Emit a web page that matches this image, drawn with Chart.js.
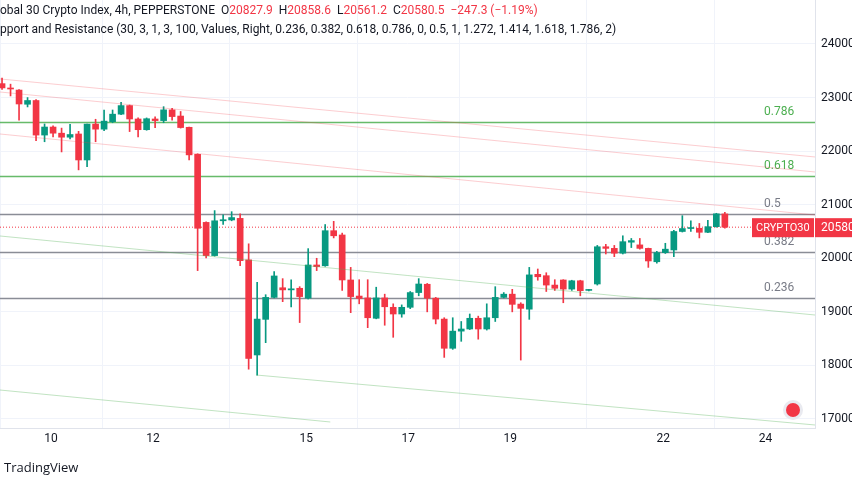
<!DOCTYPE html>
<html>
<head>
<meta charset="utf-8">
<script src="https://cdn.jsdelivr.net/npm/chart.js@4"></script>
<style>
body { margin: 0; background: #fff; }
#wrap { position: relative; width: 852px; height: 485px; }
#tv { position: absolute; left: 4px; top: 458px; font: 13px "Open Sans", sans-serif; color: #131722; }
</style>
</head>
<body>
<div id="wrap"><canvas id="c" width="852" height="485"></canvas><div id="tv">TradingView</div></div>
<script>
// 4h candles, index 0..85
var opens  = [23260,23170,23140,22875,22945,22300,22450,22335,22260,22320,21835,22505,22410,22550,22690,22850,22600,22400,22600,22570,22770,22655,22445,21940,20670,20050,20700,20715,20745,19970,
              18195,18860,19270,19450,19410,19440,19255,19875,19860,20515,20435,19595,19295,19260,18880,19260,19085,18960,19085,19360,19515,19255,18865,18320,18640,18680,18880,18680,18890,19270,
              19330,19145,19050,19700,19675,19500,19595,19425,19580,19400,19520,20215,20185,20095,20300,20250,20185,19935,20105,20155,20500,20555,20560,20485,20590,20828];
var highs  = [23365,23250,23150,23000,22960,22507,22470,22430,22500,22370,22505,22595,22768,22768,22910,22860,22620,22620,22640,22830,22800,22740,22450,21950,20680,20890,20810,20870,20830,20270,
              19550,19320,19750,19620,19600,19470,20180,20000,20630,20690,20470,19830,19600,19600,19460,19330,19150,19130,19380,19620,19530,19270,18890,18890,18820,18960,18920,19150,19470,19360,
              19420,19170,19830,19800,19730,19600,19600,19590,19590,19420,20240,20260,20240,20420,20370,20370,20190,20130,20280,20520,20795,20700,20650,20710,20840,20858];
var lows   = [23150,23030,22580,22825,22195,22175,22265,21985,22230,21650,21710,22175,22380,22530,22680,22365,22265,22390,22440,22530,22580,22430,21835,19770,20005,20040,20630,20700,19860,17930,
              17820,18425,19260,19190,19090,18800,19240,19770,19850,20380,19400,18985,19150,18705,18870,18750,18525,18900,19060,19300,19000,18775,18150,18300,18450,18670,18490,18660,18820,19260,
              19000,18100,18860,19590,19380,19400,19170,19400,19300,19390,19500,20080,20030,20080,20200,20170,19830,19910,20090,20030,20490,20500,20380,20480,20580,20561];
var closes = [23180,23160,22880,22945,22300,22450,22335,22260,22310,21835,22505,22410,22560,22690,22850,22600,22400,22605,22570,22770,22645,22440,21930,20560,20050,20700,20720,20760,19955,18130,
              18865,19270,19670,19410,19430,19285,19875,19845,20515,20420,19595,19285,19250,18890,19260,19095,18960,19085,19360,19520,19255,18865,18320,18640,18680,18880,18680,18890,19270,19330,
              19140,19065,19690,19655,19500,19440,19425,19580,19395,19415,20215,20185,20095,20310,20330,20185,19950,20105,20170,20500,20555,20560,20485,20590,20830,20580];

var dayLabels = ['10','12','15','17','19','22','24'];
var dayValues = [10,12,15,17,19,22,24];
var yTicks = [17000,18000,19000,20000,21000,22000,23000,24000];

// fib levels
var fibNames  = ['0.786','0.618','0.5','0.382','0.236'];
var fibValues = [22544,21535,20827,20117,19258];
var fibGreen  = [true,true,false,false,false];

// channel lines [x1,y1,x2,y2] in candle index / price
var redLines = [[-0.24,23347,95.6,21891],[-0.24,23104,95.6,21611],[-0.24,22320,95.6,20808]];
var greenLines = [[-0.24,20416,95.6,18941],[29.9,17821,95.6,16888],[-0.24,17541,38.6,16944]];

var lastPrice = 20580.5;

var UP = '#089981', DOWN = '#f23645';
function dayToIndex(d) { return (d - 9.039) * 6; }

var idx = opens.map(function (o, i) { return i; });
var cols = opens.map(function (o, i) { return closes[i] >= o ? UP : DOWN; });

var datasets = [];
redLines.forEach(function (l) {
	datasets.push({ type: 'line', data: [{x: l[0], y: l[1]}, {x: l[2], y: l[3]}], borderColor: 'rgba(242,54,69,0.25)', borderWidth: 1, pointRadius: 0 });
});
greenLines.forEach(function (l) {
	datasets.push({ type: 'line', data: [{x: l[0], y: l[1]}, {x: l[2], y: l[3]}], borderColor: 'rgba(76,175,80,0.35)', borderWidth: 1, pointRadius: 0 });
});
datasets.push({ type: 'bar', data: idx.map(function (i) { return {x: i, y: [lows[i], highs[i]]}; }), backgroundColor: cols, barThickness: 1, grouped: false });
datasets.push({ type: 'bar', data: idx.map(function (i) { return {x: i, y: [opens[i], closes[i]]}; }), backgroundColor: cols, barThickness: 6, minBarLength: 1, grouped: false });

var overlay = {
	id: 'overlay',
	beforeDatasetsDraw: function (chart) {
		var ctx = chart.ctx, a = chart.chartArea, ys = chart.scales.y;
		ctx.save();
		fibValues.forEach(function (v, i) {
			var y = Math.round(ys.getPixelForValue(v)) + 0.5;
			ctx.strokeStyle = fibGreen[i] ? 'rgba(76,175,80,0.85)' : '#8a8d96';
			ctx.lineWidth = 1.3;
			ctx.beginPath(); ctx.moveTo(a.left, y); ctx.lineTo(a.right, y); ctx.stroke();
			ctx.fillStyle = fibGreen[i] ? '#4caf50' : '#787b86';
			ctx.font = '12px Roboto';
			ctx.textAlign = 'left';
			ctx.fillText(fibNames[i], 764, y - 8);
		});
		var py = ys.getPixelForValue(lastPrice);
		ctx.strokeStyle = DOWN; ctx.lineWidth = 1; ctx.setLineDash([1, 2]);
		ctx.beginPath(); ctx.moveTo(a.left, py); ctx.lineTo(a.right, py); ctx.stroke();
		ctx.restore();
	},
	afterDraw: function (chart) {
		var ctx = chart.ctx, ys = chart.scales.y;
		ctx.save();
		var py = ys.getPixelForValue(lastPrice);
		ctx.fillStyle = DOWN;
		ctx.fillRect(752, py - 9, 62, 19);
		ctx.fillRect(815, py - 9, 37, 19);
		ctx.fillStyle = '#fff'; ctx.font = '11px Roboto'; ctx.textBaseline = 'middle';
		ctx.fillText('CRYPTO30', 756, py + 1);
		ctx.font = '12px Roboto';
		ctx.fillText('20580', 821, py + 1);
		// header
		ctx.textBaseline = 'middle'; ctx.font = '12px Roboto';
		var x = 0;
		var parts = [['obal 30 Crypto Index, 4h, PEPPERSTONE  ', '#131722'], ['O', '#131722'], ['20827.9  ', DOWN], ['H', '#131722'], ['20858.6  ', DOWN],
			['L', '#131722'], ['20561.2  ', DOWN], ['C', '#131722'], ['20580.5  \u2212247.3 (\u22121.19%)', DOWN]];
		parts.forEach(function (p) { ctx.fillStyle = p[1]; ctx.fillText(p[0], x, 11); x += ctx.measureText(p[0]).width; });
		ctx.fillStyle = '#131722';
		ctx.fillText('pport and Resistance (30, 3, 1, 3, 100, Values, Right, 0.236, 0.382, 0.618, 0.786, 0, 0.5, 1, 1.272, 1.414, 1.618, 1.786, 2)', 0, 30);
		// flag icon
		ctx.beginPath(); ctx.arc(793, 410, 10, 0, Math.PI * 2); ctx.fillStyle = '#e9eaf0'; ctx.fill();
		ctx.beginPath(); ctx.arc(793, 410, 7, 0, Math.PI * 2); ctx.fillStyle = DOWN; ctx.fill();
		ctx.restore();
	}
};

new Chart(document.getElementById('c').getContext('2d'), {
	type: 'bar',
	data: { datasets: datasets },
	plugins: [overlay],
	options: {
		responsive: false, animation: false,
		layout: { padding: 0 },
		plugins: { legend: { display: false }, tooltip: { enabled: false } },
		scales: {
			x: {
				type: 'linear', min: -0.24, max: 95.6, offset: false,
				afterFit: function (s) { s.height = 57; s.paddingLeft = 0; s.paddingRight = 0; },
				afterBuildTicks: function (s) { s.ticks = dayValues.map(function (d) { return {value: dayToIndex(d)}; }); },
				ticks: { autoSkip: false, maxRotation: 0, padding: 4, color: '#131722', font: {family: 'Roboto', size: 12},
					callback: function (v, i) { return dayLabels[i]; } },
				grid: { color: '#f0f3fa', drawTicks: false },
				border: { display: true, color: '#e0e3eb' }
			},
			y: {
				position: 'right', min: 16832, max: 24821,
				afterFit: function (s) { s.width = 37; s.paddingTop = 0; s.paddingBottom = 0; },
				afterBuildTicks: function (s) { s.ticks = yTicks.map(function (v) { return {value: v}; }); },
				ticks: { padding: 6, color: '#131722', font: {family: 'Roboto', size: 12}, callback: function (v) { return String(v); } },
				grid: { color: '#f0f3fa', drawTicks: false },
				border: { display: true, color: '#e0e3eb' }
			}
		}
	}
});
</script>
</body>
</html>
